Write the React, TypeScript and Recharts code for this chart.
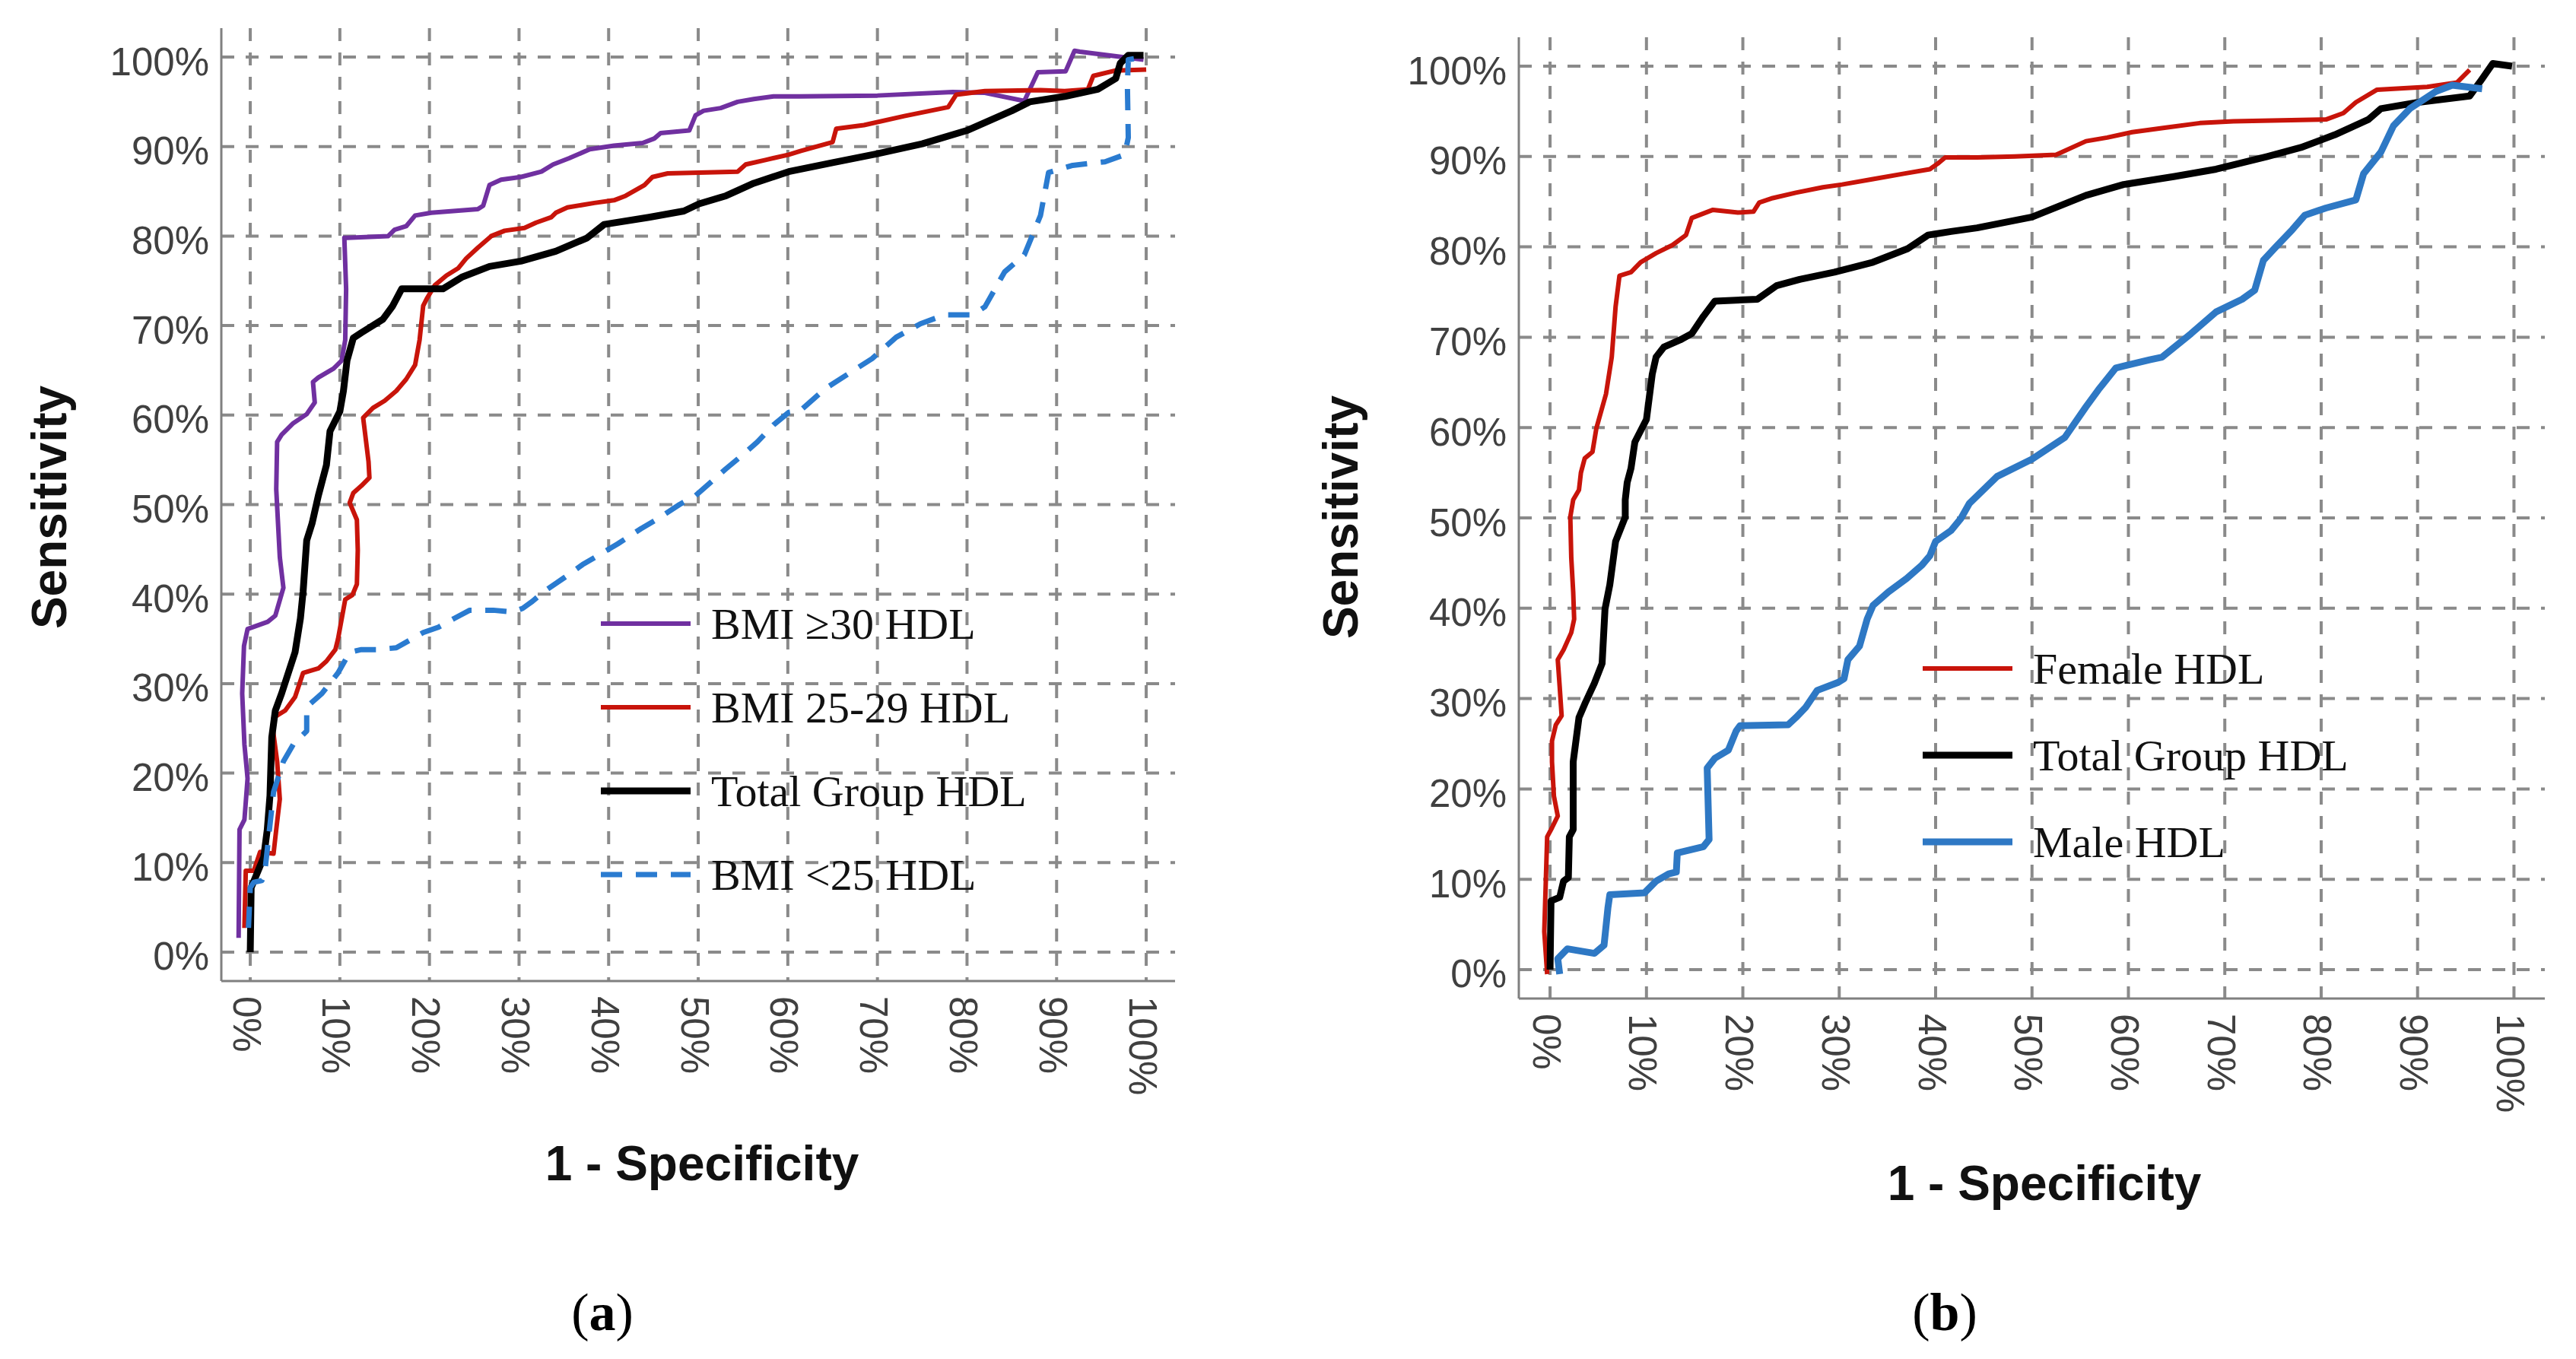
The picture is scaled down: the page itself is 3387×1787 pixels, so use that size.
import React from 'react'
import { LineChart, Line, XAxis, YAxis, CartesianGrid, Legend } from 'recharts'

type Pt = [number, number]

// ROC points, [1 - specificity %, sensitivity %]
const PCT_TICKS = [0, 10, 20, 30, 40, 50, 60, 70, 80, 90, 100]

// panel (a)
const bmi30Points: Pt[] = [
  [-1.3, 1.6], [-1.2, 13.7], [-0.65, 14.8], [-0.3, 19.4], [-0.65, 23.2], [-0.9, 28.9],
  [-0.7, 34.2], [-0.3, 36.1], [1.95, 36.9], [2.8, 37.6], [3.7, 40.7], [3.3, 44.1],
  [2.9, 51.7], [3.0, 57.0], [3.5, 57.8], [4.8, 59.1], [6.3, 60.1], [7.2, 61.4],
  [7.0, 63.7], [7.6, 64.2], [9.3, 65.2], [10.2, 66.1], [10.6, 68.4], [10.7, 74.1],
  [10.5, 79.8], [10.8, 79.8], [15.4, 80.0], [16.1, 80.7], [17.4, 81.1], [18.4, 82.3],
  [20.2, 82.6], [25.4, 83.0], [26.0, 83.4], [26.7, 85.7], [28.0, 86.3], [30.2, 86.6],
  [32.5, 87.2], [33.8, 88.0], [35.6, 88.7], [37.9, 89.7], [40.6, 90.1], [43.8, 90.4],
  [45.1, 90.9], [45.8, 91.5], [49.0, 91.8], [49.7, 93.5], [50.6, 94.0], [52.5, 94.3],
  [54.4, 95.0], [56.2, 95.3], [58.4, 95.6], [61.3, 95.6], [70.0, 95.7], [78.4, 96.1],
  [82.0, 96.0], [86.4, 95.1], [87.9, 98.3], [91.0, 98.4], [92.0, 100.7], [92.6, 100.6],
  [99.7, 99.7],
]

const bmi2529Points: Pt[] = [
  [-0.65, 2.7], [-0.5, 9.1], [0.4, 9.1], [1.1, 11.2], [2.6, 11.0], [2.9, 13.7],
  [3.3, 17.1], [3.0, 21.3], [2.5, 25.1], [2.6, 26.2], [3.9, 27.0], [5.0, 28.5],
  [5.9, 31.2], [7.6, 31.7], [8.5, 32.5], [9.5, 33.8], [9.8, 35.0], [10.6, 39.4],
  [11.4, 39.9], [11.9, 41.1], [12.0, 44.9], [11.9, 48.3], [11.1, 50.2], [11.5, 51.3],
  [12.4, 52.1], [13.3, 53.0], [13.2, 54.8], [12.7, 58.9], [12.6, 59.7], [13.7, 60.8],
  [15.0, 61.6], [16.3, 62.7], [17.4, 64.0], [18.4, 65.6], [18.9, 68.4], [19.3, 72.2],
  [19.7, 73.0], [20.6, 74.5], [21.9, 75.6], [23.2, 76.4], [24.1, 77.5], [25.4, 78.7],
  [26.9, 80.0], [28.4, 80.6], [30.6, 80.9], [31.9, 81.5], [33.6, 82.1], [34.1, 82.6],
  [35.4, 83.2], [38.4, 83.7], [40.6, 84.0], [41.9, 84.5], [44.0, 85.7], [44.9, 86.6],
  [46.6, 87.0], [54.4, 87.2], [55.3, 88.0], [57.5, 88.5], [60.1, 89.1], [61.4, 89.5],
  [65.0, 90.5], [65.4, 92.0], [68.5, 92.4], [73.0, 93.4], [77.9, 94.4], [78.8, 95.8],
  [82.0, 96.2], [88.2, 96.3], [90.9, 96.2], [93.5, 96.4], [94.1, 97.9], [96.6, 98.5],
  [100, 98.6],
]

const totalAPoints: Pt[] = [
  [0, 0], [0.1, 7.2], [1.5, 10.6], [1.9, 13.7], [2.2, 17.5], [2.4, 24.0], [2.8, 27.0],
  [3.5, 28.9], [5.0, 33.5], [5.6, 37.3], [5.9, 40.3], [6.3, 46.0], [6.9, 47.9],
  [7.6, 51.0], [8.5, 54.4], [8.9, 58.2], [10.0, 60.4], [10.4, 62.7], [10.8, 66.1],
  [11.5, 68.6], [12.4, 69.2], [14.8, 70.7], [15.9, 72.2], [16.9, 74.1], [21.5, 74.1],
  [23.6, 75.4], [26.7, 76.6], [30.2, 77.2], [34.1, 78.3], [37.6, 79.8], [39.5, 81.3],
  [44.5, 82.1], [48.4, 82.8], [50.1, 83.6], [53.1, 84.5], [56.2, 85.9], [60.1, 87.2],
  [65.0, 88.2], [70.0, 89.2], [75.0, 90.3], [80.0, 91.8], [85.0, 94.0], [87.0, 95.0],
  [90.9, 95.6], [94.6, 96.4], [96.6, 97.6], [97.1, 99.3], [98.0, 100.2], [99.7, 100.2],
]

const bmiUnder25Points: Pt[] = [
  [-0.2, 2.7], [0, 7.2], [0.4, 7.8], [1.3, 8.0], [1.6, 8.7], [2.6, 17.9], [3.7, 21.3],
  [4.8, 23.2], [6.3, 24.7], [6.3, 27.4], [8.0, 28.9], [9.8, 31.2], [11.1, 33.5],
  [12.4, 33.8], [14.1, 33.8], [16.3, 34.0], [19.3, 35.7], [21.0, 36.3], [22.8, 37.3],
  [24.5, 38.2], [27.1, 38.2], [29.3, 38.0], [30.4, 38.4], [31.5, 39.2], [32.8, 40.3],
  [35.0, 41.8], [37.1, 43.3], [38.8, 44.3], [41.0, 45.6], [43.6, 47.3], [45.3, 48.3],
  [47.9, 50.0], [49.7, 51.0], [51.4, 52.5], [53.1, 54.0], [54.9, 55.5], [56.6, 57.0],
  [58.4, 58.9], [60.1, 60.3], [61.4, 60.5], [64.1, 62.9], [67.2, 64.9], [69.4, 66.3],
  [72.1, 68.7], [74.8, 70.2], [77.5, 71.2], [80.6, 71.2], [82.0, 72.1], [84.2, 76.0],
  [86.4, 77.9], [88.2, 82.3], [89.1, 87.1], [91.8, 87.9], [95.4, 88.3], [97.6, 89.1],
  [98.0, 91.0], [97.9, 96.8], [98.0, 99.7], [99.8, 100],
]

// panel (b)
const femalePoints: Pt[] = [
  [-0.3, -0.5], [-0.6, 4.2], [-0.3, 14.7], [0.2, 15.7], [0.8, 17.0], [0.4, 19.2],
  [0.2, 23.0], [0.2, 25.3], [0.6, 27.1], [1.2, 28.1], [1.0, 31.3], [0.8, 34.3],
  [1.4, 35.4], [2.2, 37.3], [2.5, 38.8], [2.4, 41.8], [2.2, 45.6], [2.1, 50.1],
  [2.4, 52.0], [3.0, 53.1], [3.2, 55.0], [3.6, 56.6], [4.4, 57.3], [4.8, 59.9],
  [5.8, 63.7], [6.4, 67.8], [6.8, 73.4], [7.2, 76.8], [8.4, 77.2], [9.4, 78.3],
  [11.0, 79.3], [12.7, 80.2], [14.1, 81.3], [14.7, 83.2], [16.9, 84.1], [19.5, 83.8],
  [21.1, 83.9], [21.7, 84.9], [23.1, 85.4], [25.5, 86.0], [28.3, 86.6], [30.3, 86.9],
  [33.5, 87.5], [36.7, 88.1], [39.4, 88.6], [40.2, 89.2], [41.0, 89.9], [44.3, 89.9],
  [48.2, 90.0], [52.5, 90.2], [55.6, 91.7], [57.8, 92.1], [60.4, 92.7], [63.9, 93.2],
  [67.4, 93.7], [70.9, 93.9], [80.5, 94.1], [82.3, 94.8], [83.6, 96.0], [85.8, 97.4],
  [91.0, 97.7], [94.1, 98.2], [95.4, 99.6],
]

const totalBPoints: Pt[] = [
  [0, 0], [0.1, 7.6], [1.0, 8.0], [1.4, 9.8], [1.9, 10.2], [2.0, 14.7], [2.4, 15.5],
  [2.4, 23.0], [3.0, 27.9], [3.6, 29.4], [4.6, 31.7], [5.4, 33.9], [5.7, 39.9],
  [6.2, 42.6], [6.8, 47.4], [7.8, 50.1], [7.8, 52.0], [8.0, 53.9], [8.4, 55.5],
  [8.8, 58.4], [10.0, 60.9], [10.6, 65.9], [11.0, 67.8], [11.8, 68.9], [13.5, 69.7],
  [14.7, 70.4], [15.9, 72.3], [17.1, 74.0], [21.5, 74.2], [23.5, 75.7], [25.9, 76.4],
  [29.5, 77.2], [33.5, 78.3], [37.1, 79.8], [39.2, 81.3], [41.6, 81.7], [44.3, 82.1],
  [50.0, 83.3], [55.6, 85.7], [59.5, 86.9], [64.8, 87.8], [69.1, 88.6], [74.4, 90.0],
  [77.9, 91.0], [81.4, 92.4], [84.9, 94.1], [86.2, 95.3], [90.1, 96.0], [95.4, 96.7],
  [96.5, 98.3], [97.8, 100.3], [99.8, 100],
]

const malePoints: Pt[] = [
  [1.0, -0.5], [0.8, 1.2], [1.8, 2.3], [4.6, 1.8], [5.6, 2.7], [6.0, 6.8], [6.2, 8.3],
  [9.8, 8.5], [11.0, 9.8], [12.3, 10.6], [13.1, 10.8], [13.2, 12.9], [15.9, 13.6],
  [16.5, 14.4], [16.3, 22.3], [17.1, 23.4], [18.5, 24.3], [19.3, 26.4], [19.7, 27.0],
  [24.7, 27.1], [25.5, 27.9], [26.5, 29.0], [27.7, 30.9], [29.9, 31.8], [30.5, 32.2],
  [30.9, 34.3], [32.1, 35.8], [32.9, 38.8], [33.5, 40.3], [35.1, 41.8], [37.0, 43.3],
  [38.6, 44.8], [39.4, 45.8], [40.0, 47.4], [41.6, 48.6], [42.6, 49.9], [43.5, 51.6],
  [46.4, 54.6], [50.0, 56.5], [53.4, 58.9], [55.6, 62.3], [56.9, 64.2], [58.7, 66.6],
  [62.2, 67.5], [63.5, 67.8], [66.5, 70.4], [69.1, 72.8], [71.8, 74.2], [73.1, 75.2],
  [74.0, 78.5], [75.3, 80.0], [77.0, 81.9], [78.3, 83.5], [80.5, 84.3], [83.6, 85.2],
  [84.4, 88.1], [86.2, 90.5], [87.5, 93.4], [89.2, 95.3], [91.9, 97.2], [93.6, 97.9],
  [96.7, 97.5],
]

const SANS = '"Liberation Sans", Arial, sans-serif'
const SERIF = '"Liberation Serif", "Times New Roman", serif'
const GRID = '#8a8a8a'
const AXIS = '#808080'

type Series = {
  name: string
  color: string
  width: number
  dash?: string
  points: Pt[]
}

const seriesA: Series[] = [
  { name: 'BMI ≥30 HDL', color: '#7030a0', width: 6, points: bmi30Points },
  { name: 'BMI 25-29 HDL', color: '#c8140a', width: 6, points: bmi2529Points },
  { name: 'Total Group HDL', color: '#000000', width: 9, points: totalAPoints },
  { name: 'BMI <25 HDL', color: '#2a7bd0', width: 7, dash: '28 18', points: bmiUnder25Points },
]

const seriesB: Series[] = [
  { name: 'Female HDL', color: '#c8140a', width: 6, points: femalePoints },
  { name: 'Total Group HDL', color: '#000000', width: 9, points: totalBPoints },
  { name: 'Male HDL', color: '#2e78c4', width: 9, points: malePoints },
]

const toRows = (pts: Pt[]) => pts.map(([fpr, sens]) => ({ fpr, sens }))

const YTick = (props: any) => {
  const { x, y, payload } = props
  return (
    <text x={x} y={y + 6} textAnchor="end" dominantBaseline="central"
      fontFamily={SANS} fontSize={51} fill="#404040">
      {payload.value}%
    </text>
  )
}

const XTick = (props: any) => {
  const { x, y, payload } = props
  const tx = x - 5
  return (
    <text x={tx} y={y + 4} transform={`rotate(90 ${tx} ${y + 4})`} textAnchor="start"
      dominantBaseline="central" fontFamily={SANS} fontSize={51} fill="#404040">
      {payload.value}%
    </text>
  )
}

const legendContent = (items: Series[], gap: number) => () => (
  <svg width={640} height={items.length * gap}>
    {items.map((s, i) => {
      const cy = gap / 2 + i * gap
      return (
        <g key={s.name}>
          <line x1={0} x2={118} y1={cy} y2={cy} stroke={s.color}
            strokeWidth={s.width} strokeDasharray={s.dash} />
          <text x={145} y={cy} dominantBaseline="central" fontFamily={SERIF}
            fontSize={58} fill="#111">{s.name}</text>
        </g>
      )
    })}
  </svg>
)

type PanelProps = {
  series: Series[]
  width: number
  height: number
  left: number
  yAxisWidth: number
  top: number
  right: number
  xAxisHeight: number
  xDomain: [number, number]
  yDomain: [number, number]
  legendPos: { left: number; top: number }
  legendGap: number
  yTitle: { x: number; y: number }
  xTitle: { x: number; y: number }
}

function RocPanel(p: PanelProps) {
  return (
    <div style={{ position: 'absolute', left: p.left, top: 0 }}>
      <LineChart width={p.width} height={p.height}
        margin={{ top: p.top, right: p.right, left: 0, bottom: 0 }}>
        <CartesianGrid stroke={GRID} strokeWidth={4} strokeDasharray="17 15" syncWithTicks />
        <XAxis type="number" dataKey="fpr" domain={p.xDomain} allowDataOverflow
          ticks={PCT_TICKS} interval={0} height={p.xAxisHeight}
          axisLine={{ stroke: AXIS, strokeWidth: 3 }} tickLine={false}
          tickSize={0} tickMargin={16} tick={<XTick />}
          label={() => (
            <text x={p.xTitle.x} y={p.xTitle.y} textAnchor="middle" dominantBaseline="central"
              fontFamily={SANS} fontWeight="bold" fontSize={64} fill="#111">
              1 - Specificity
            </text>
          )} />
        <YAxis type="number" dataKey="sens" domain={p.yDomain} allowDataOverflow
          ticks={PCT_TICKS} interval={0} width={p.yAxisWidth}
          axisLine={{ stroke: AXIS, strokeWidth: 3 }} tickLine={false}
          tickSize={0} tickMargin={16} tick={<YTick />}
          label={() => (
            <text x={p.yTitle.x} y={p.yTitle.y} textAnchor="middle" dominantBaseline="central"
              transform={`rotate(-90 ${p.yTitle.x} ${p.yTitle.y})`}
              fontFamily={SANS} fontWeight="bold" fontSize={64} fill="#111">
              Sensitivity
            </text>
          )} />
        {p.series.map((s) => (
          <Line key={s.name} name={s.name} data={toRows(s.points)} dataKey="sens"
            type="linear" stroke={s.color} strokeWidth={s.width} strokeDasharray={s.dash}
            strokeLinejoin="round" dot={false} activeDot={false} isAnimationActive={false} />
        ))}
        <Legend layout="vertical" align="center" verticalAlign="middle"
          content={legendContent(p.series, p.legendGap)}
          wrapperStyle={{ left: p.legendPos.left, top: p.legendPos.top, width: 640 }} />
      </LineChart>
    </div>
  )
}

export default function App() {
  return (
    <div style={{ position: 'absolute', left: 0, top: 0, width: 3387, height: 1787,
      overflow: 'hidden', background: '#fff' }}>
      <RocPanel series={seriesA} left={0} width={1600} height={1787}
        yAxisWidth={291} top={37} right={55} xAxisHeight={1787 - 1290}
        xDomain={[-3.23, 103.22]} yDomain={[-3.23, 103.23]}
        legendPos={{ left: 790, top: 820 - 55 }} legendGap={110}
        yTitle={{ x: 65, y: 667 }} xTitle={{ x: 923, y: 1530 }} />
      <RocPanel series={seriesB} left={1700} width={1680} height={1787}
        yAxisWidth={297} top={49} right={34} xAxisHeight={1787 - 1313}
        xDomain={[-3.24, 103.2]} yDomain={[-3.2, 103.2]}
        legendPos={{ left: 828, top: 879 - 57 }} legendGap={114}
        yTitle={{ x: 63, y: 680 }} xTitle={{ x: 988, y: 1556 }} />
      <div style={{ position: 'absolute', left: 792 - 70, top: 1726 - 45, width: 140,
        textAlign: 'center', fontFamily: SERIF, fontSize: 70, lineHeight: '90px' }}>
        (<b>a</b>)
      </div>
      <div style={{ position: 'absolute', left: 2557 - 70, top: 1726 - 45, width: 140,
        textAlign: 'center', fontFamily: SERIF, fontSize: 70, lineHeight: '90px' }}>
        (<b>b</b>)
      </div>
    </div>
  )
}
